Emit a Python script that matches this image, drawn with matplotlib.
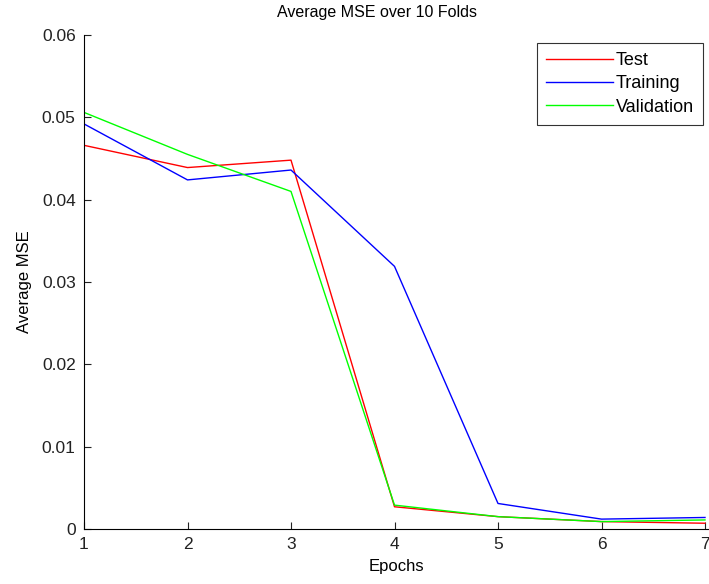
import matplotlib
matplotlib.use("Agg")
from matplotlib import pyplot as plt

plt.rcParams['font.family'] = ['Liberation Sans', 'DejaVu Sans']

epochs = [1, 2, 3, 4, 5, 6, 7]
test_mse = [0.0466, 0.0439, 0.0448, 0.0027, 0.0015, 0.0009, 0.0007]
train_mse = [0.0492, 0.0424, 0.0436, 0.0319, 0.0031, 0.0012, 0.0014]
valid_mse = [0.0506, 0.0455, 0.0410, 0.0029, 0.0015, 0.0009, 0.0011]

x_ticks = [1, 2, 3, 4, 5, 6, 7]
y_ticks = [0, 0.01, 0.02, 0.03, 0.04, 0.05, 0.06]


def main():
    fig = plt.figure(figsize=(7.09, 5.84), dpi=100)
    ax = fig.add_axes([84 / 709, 55 / 584, 625 / 709, 494 / 584])

    ax.plot(epochs, test_mse, color=(1, 0, 0), lw=1.0, label='Test')
    ax.plot(epochs, train_mse, color=(0, 0, 1), lw=1.0, label='Training')
    ax.plot(epochs, valid_mse, color=(0, 1, 0), lw=1.0, label='Validation')

    ax.set_xlim(1, 1 + 625 / 103.5)
    ax.set_ylim(0, 0.06)
    ax.set_xticks(x_ticks)
    ax.set_yticks(y_ticks)
    ax.set_yticklabels(['0'] + ['%.2f' % v for v in y_ticks[1:]])
    ax.tick_params(direction='in', length=5, width=0.8, labelsize=12.5,
                   pad=6, colors='#222222')

    ax.spines['top'].set_visible(False)
    ax.spines['right'].set_visible(False)

    ax.set_xlabel('Epochs', fontsize=12, labelpad=5)
    ax.set_ylabel('Average MSE', fontsize=12, labelpad=7)
    # title sits a little left of the axes centre
    fig.text(377 / 709, 1 - 13 / 584, 'Average MSE over 10 Folds',
             fontsize=11.5, ha='center', va='center')

    leg = ax.legend(loc='upper right', bbox_to_anchor=(703 / 709, 1 - 43 / 584),
                    bbox_transform=fig.transFigure, fancybox=False,
                    edgecolor='black', fontsize=13, handlelength=3.7,
                    handletextpad=0.15, labelspacing=0.35, borderpad=0.5,
                    borderaxespad=0)
    leg.get_frame().set_linewidth(0.8)

    fig.savefig('out.png', dpi=100)


if __name__ == "__main__":
    main()
